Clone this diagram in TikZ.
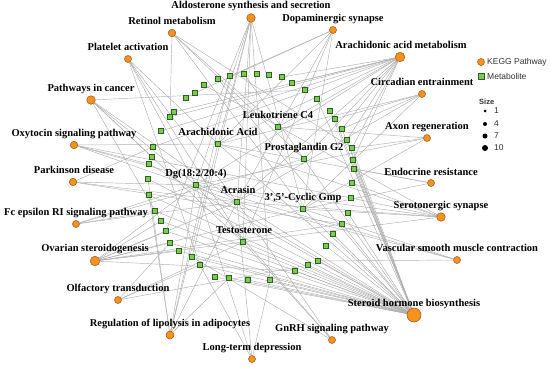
\documentclass[tikz,border=0pt]{standalone}
\usepackage{fontspec}
\setmainfont{Liberation Serif}
\newfontfamily\legfont{Liberation Sans}
\usetikzlibrary{backgrounds}
\definecolor{korange}{RGB}{247,146,30}
\definecolor{kborder}{RGB}{150,80,20}
\definecolor{mgreen}{RGB}{126,200,84}
\definecolor{mborder}{RGB}{40,100,30}
\definecolor{edgegray}{RGB}{175,175,175}
\definecolor{legtext}{RGB}{50,50,50}
\tikzset{
  kegg/.style={circle,draw=kborder,line width=0.5pt,fill=korange,inner sep=0pt,minimum size=7pt},
  met/.style={rectangle,draw=mborder,line width=0.5pt,fill=mgreen,inner sep=0pt,minimum size=4.6pt},
  lbl/.style={font=\bfseries\fontsize{10.5}{11}\selectfont,inner sep=0pt,text height=7pt,text depth=2pt},
  edge/.style={draw=edgegray,line width=0.45pt},
  legtxt/.style={font=\legfont\fontsize{8.5}{9}\selectfont,text=legtext,inner sep=0pt,anchor=west}
}
\begin{document}
\begin{tikzpicture}[x=1pt,y=-1pt]
\useasboundingbox (0,0) rectangle (550,367);
% ring metabolites
\foreach \x/\y [count=\i] in {148/179,149/164,152/157,153/147,161/131,170/117,174/112,186/98,195/93,204/85,218/79,230/76,244/74,257/74,269/75,282/77,292/83,305/90,317/99,330/111,335/119,342/129,347/140,352/148,353/160,354/169,352/183,351/198,348/213,342/224,333/234,326/246,318/261,308/265,295/271,270/280,248/280,229/278,215/277,200/265,192/257,179/251,170/243,166/231,161/221,155/211,149/195}
  \node[met] (r\i) at (\x,\y) {};
% labelled metabolites
\node[met] (lc4) at (278,127) {}; \node[lbl] at (278,116) {Leukotriene C4};
\node[met] (aa) at (218,144) {}; \node[lbl] at (218,133) {Arachidonic Acid};
\node[met] (pg2) at (304,159) {}; \node[lbl] at (304,148) {Prostaglandin G2};
\node[met] (dg) at (196,185) {}; \node[lbl] at (196,174) {Dg(18:2/20:4)};
\node[met] (acr) at (237,202) {}; \node[lbl] at (238,191) {Acrasin};
\node[met] (cgmp) at (303,209) {}; \node[lbl] at (303,198) {3',5'-Cyclic Gmp};
\node[met] (tes) at (243,242) {}; \node[lbl] at (244,231) {Testosterone};
% KEGG pathways
\node[kegg,minimum size=8.5pt] (ald) at (251,18) {}; \node[lbl] at (251,6) {Aldosterone synthesis and secretion};
\node[kegg,minimum size=7.5pt] (ret) at (172,33) {}; \node[lbl] at (172,22) {Retinol metabolism};
\node[kegg] (pla) at (128,59) {}; \node[lbl] at (128,48) {Platelet activation};
\node[kegg,minimum size=8.5pt] (pic) at (91,100) {}; \node[lbl] at (91,89) {Pathways in cancer};
\node[kegg,minimum size=7.5pt] (oxy) at (74,145) {}; \node[lbl] at (74,134) {Oxytocin signaling pathway};
\node[kegg,minimum size=7.5pt] (par) at (73,182) {}; \node[lbl] at (74,171) {Parkinson disease};
\node[kegg] (fce) at (76,224) {}; \node[lbl] at (76,213) {Fc epsilon RI signaling pathway};
\node[kegg,minimum size=9.5pt] (ova) at (95,261) {}; \node[lbl] at (95,249) {Ovarian steroidogenesis};
\node[kegg] (olf) at (118,300) {}; \node[lbl] at (118,289) {Olfactory transduction};
\node[kegg,minimum size=8pt] (lip) at (170,335) {}; \node[lbl] at (170,324) {Regulation of lipolysis in adipocytes};
\node[kegg] (ltd) at (252,359) {}; \node[lbl] at (252,348) {Long-term depression};
\node[kegg] (gnrh) at (332,340) {}; \node[lbl] at (332,329) {GnRH signaling pathway};
\node[kegg,minimum size=14pt] (shb) at (414,315) {}; \node[lbl] at (414,304) {Steroid hormone biosynthesis};
\node[kegg] (vsm) at (457,260) {}; \node[lbl] at (457,249) {Vascular smooth muscle contraction};
\node[kegg,minimum size=8.5pt] (ser) at (441,217) {}; \node[lbl] at (441,206) {Serotonergic synapse};
\node[kegg] (end) at (431,183) {}; \node[lbl] at (431,173) {Endocrine resistance};
\node[kegg] (axo) at (427,138) {}; \node[lbl] at (427,127) {Axon regeneration};
\node[kegg] (cir) at (422,94) {}; \node[lbl] at (422,83) {Circadian entrainment};
\node[kegg,minimum size=9.5pt] (aam) at (400,57) {}; \node[lbl] at (401,46) {Arachidonic acid metabolism};
\node[kegg] (dop) at (333,30) {}; \node[lbl] at (333,19) {Dopaminergic synapse};
% legend
\node[kegg] (legk) at (481,62) {}; \node[legtxt] at (487,62) {KEGG Pathway};
\node[met,minimum size=6pt] (legm) at (481,76) {}; \node[legtxt] at (487,76) {Metabolite};
\node[legtxt,font=\legfont\bfseries\fontsize{7.5}{9}\selectfont] at (479,102) {Size};
\node[circle,fill=black,inner sep=0pt,minimum size=3pt] (s1) at (485,111) {}; \node[legtxt] at (494,111) {1};
\node[circle,fill=black,inner sep=0pt,minimum size=4pt] (s4) at (485,124) {}; \node[legtxt] at (494,124) {4};
\node[circle,fill=black,inner sep=0pt,minimum size=5pt] (s7) at (485,136) {}; \node[legtxt] at (494,136) {7};
\node[circle,fill=black,inner sep=0pt,minimum size=6pt] (s10) at (485,148) {}; \node[legtxt] at (494,148) {10};
% edges
\begin{scope}[on background layer]
\foreach \a/\b in {
 ald/aa,ald/dg,ald/acr,ald/tes,ald/r44,ald/r41,ald/cgmp,ald/r36,
 ret/lc4,ret/pg2,ret/r6,ret/cgmp,ret/r24,
 pla/dg,pla/acr,pla/tes,pla/r40,pla/aa,
 pic/r18,pic/dg,pic/acr,pic/tes,pic/r45,pic/r3,
 oxy/aa,oxy/r2,oxy/acr,oxy/cgmp,oxy/r28,
 par/r4,par/dg,par/acr,par/r30,
 fce/dg,fce/r46,fce/acr,fce/pg2,
 ova/r45,ova/r44,ova/r43,ova/r42,ova/tes,ova/acr,ova/cgmp,ova/dg,ova/r35,ova/r30,
 olf/r43,olf/tes,olf/r34,olf/r40,
 lip/dg,lip/aa,lip/acr,lip/r1,lip/r47,lip/r38,lip/r12,
 ltd/r40,ltd/acr,ltd/dg,ltd/r36,
 gnrh/r41,gnrh/acr,gnrh/tes,gnrh/dg,
 vsm/acr,vsm/dg,vsm/cgmp,vsm/r33,
 ser/acr,ser/cgmp,ser/dg,ser/aa,ser/r27,ser/r28,ser/tes,ser/r10,
 end/cgmp,end/aa,end/r26,
 axo/cgmp,axo/dg,axo/r24,axo/lc4,
 cir/cgmp,cir/r22,cir/acr,cir/aa,cir/r21,
 aam/lc4,aam/pg2,aam/aa,aam/dg,aam/r16,aam/r17,aam/r5,aam/r6,aam/r24,aam/r25,aam/r22,aam/r23,aam/acr,aam/r7,aam/r4,
 dop/acr,dop/cgmp,dop/r9,dop/r12,dop/aa,dop/tes,
 shb/r47,shb/r46,shb/r45,shb/r44,shb/r43,shb/r42,shb/r41,shb/r40,shb/r39,shb/r38,shb/r37,shb/r1,shb/r2,
 shb/tes,shb/acr,shb/cgmp,shb/dg,shb/aa,shb/r19,shb/r20,shb/r21,shb/r22,shb/r23,shb/r24,shb/r25,shb/r26,
 shb/r29,shb/r30,shb/r31,shb/r32,shb/r33,shb/r34,shb/r35,shb/r36,shb/r11,shb/r13}
 \draw[edge] (\a) -- (\b);
\end{scope}
\end{tikzpicture}
\end{document}
